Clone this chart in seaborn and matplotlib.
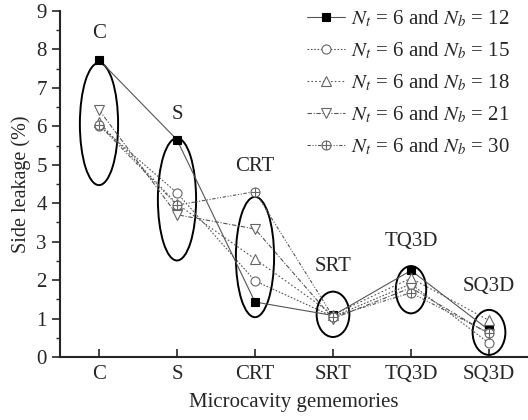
import numpy as np
import pandas as pd
import matplotlib
matplotlib.use("Agg")
import matplotlib.pyplot as plt
from matplotlib.patches import Ellipse
from matplotlib.path import Path
import seaborn as sns

# data
categories = ["C", "S", "CRT", "SRT", "TQ3D", "SQ3D"]
nb_values = [12, 15, 18, 21, 30]
leak_nb12 = [7.73, 5.65, 1.43, 1.08, 2.25, 0.70]
leak_nb15 = [6.02, 4.27, 1.98, 1.05, 1.90, 0.36]
leak_nb18 = [6.10, 3.98, 2.55, 1.10, 2.05, 0.95]
leak_nb21 = [6.43, 3.70, 3.33, 1.00, 1.80, 0.60]
leak_nb30 = [6.04, 3.95, 4.30, 1.05, 1.67, 0.62]

# ellipse (center, height) per group and group label height
ell_center = [6.06, 4.10, 2.60, 1.11, 1.75, 0.64]
ell_height = [3.18, 3.18, 3.13, 1.18, 1.23, 1.17]
ell_width = [0.49, 0.49, 0.49, 0.42, 0.39, 0.42]
label_y = [8.4, 6.3, 4.95, 2.35, 3.0, 1.83]

sns.set_style("ticks")
plt.rcParams["font.family"] = ["Liberation Serif", "DejaVu Serif"]
plt.rcParams["mathtext.fontset"] = "stix"

# circle-with-cross marker
circ = Path.unit_circle()
cross = Path([(-1, 0), (1, 0), (0, -1), (0, 1)],
             [Path.MOVETO, Path.LINETO, Path.MOVETO, Path.LINETO])
oplus = Path.make_compound_path(circ, cross)

series = [leak_nb12, leak_nb15, leak_nb18, leak_nb21, leak_nb30]
markers = ["s", "o", "^", "v", oplus]
linestyles = ["-", (0, (1.5, 1.5)), (0, (1.5, 2)), (0, (4, 1.5, 1, 1.5)), (0, (3, 1.5, 1, 1.5, 1, 1.5))]

fig = plt.figure(figsize=(5.28, 4.2), dpi=100)
ax = fig.add_axes([0.1136, 0.15, 0.8864, 0.824])

x = np.arange(len(categories))
for nb, vals, mk, ls in zip(nb_values, series, markers, linestyles):
    df = pd.DataFrame({"x": x, "y": vals})
    filled = nb == 12
    sns.lineplot(data=df, x="x", y="y", ax=ax, color="#555555", lw=0.8,
                 linestyle=ls, marker=mk, markersize=6.5 if mk != "s" else 6,
                 markerfacecolor="black" if filled else "white",
                 markeredgecolor="black" if filled else "#666666",
                 markeredgewidth=0.8,
                 label=r"$N_t$ = 6 and $N_b$ = %d" % nb)

for xi, c, h, w, ly, name in zip(x, ell_center, ell_height, ell_width, label_y, categories):
    ax.add_patch(Ellipse((xi, c), w, h, fill=False, ec="black", lw=1.4, zorder=1))
    ax.text(xi, ly, name, ha="center", va="center", fontsize=15)

ax.set_xlim(-0.5, 5.5)
ax.set_ylim(0, 9)
ax.set_xticks(x)
ax.set_xticklabels(categories)
ax.set_yticks(range(10))
ax.set_yticks(np.arange(0.5, 9, 1), minor=True)
ax.tick_params(axis="x", direction="in", length=6, width=1.2, labelsize=15, pad=6)
ax.tick_params(axis="y", which="major", direction="out", length=6, width=1.2, labelsize=15)
ax.tick_params(axis="y", which="minor", direction="out", length=3, width=1.0)
ax.set_xlabel("Microcavity gememories", fontsize=15, labelpad=6)
ax.set_ylabel("Side leakage (%)", fontsize=14.5, labelpad=4)
sns.despine(ax=ax)
for s in ["left", "bottom"]:
    ax.spines[s].set_linewidth(1.5)

ax.legend(loc="upper right", bbox_to_anchor=(0.97, 1.02), frameon=False,
          fontsize=15, handlelength=1.8, handletextpad=0.3, labelspacing=0.55,
          borderaxespad=0, borderpad=0.2)

plt.savefig("out.png", dpi=100)
